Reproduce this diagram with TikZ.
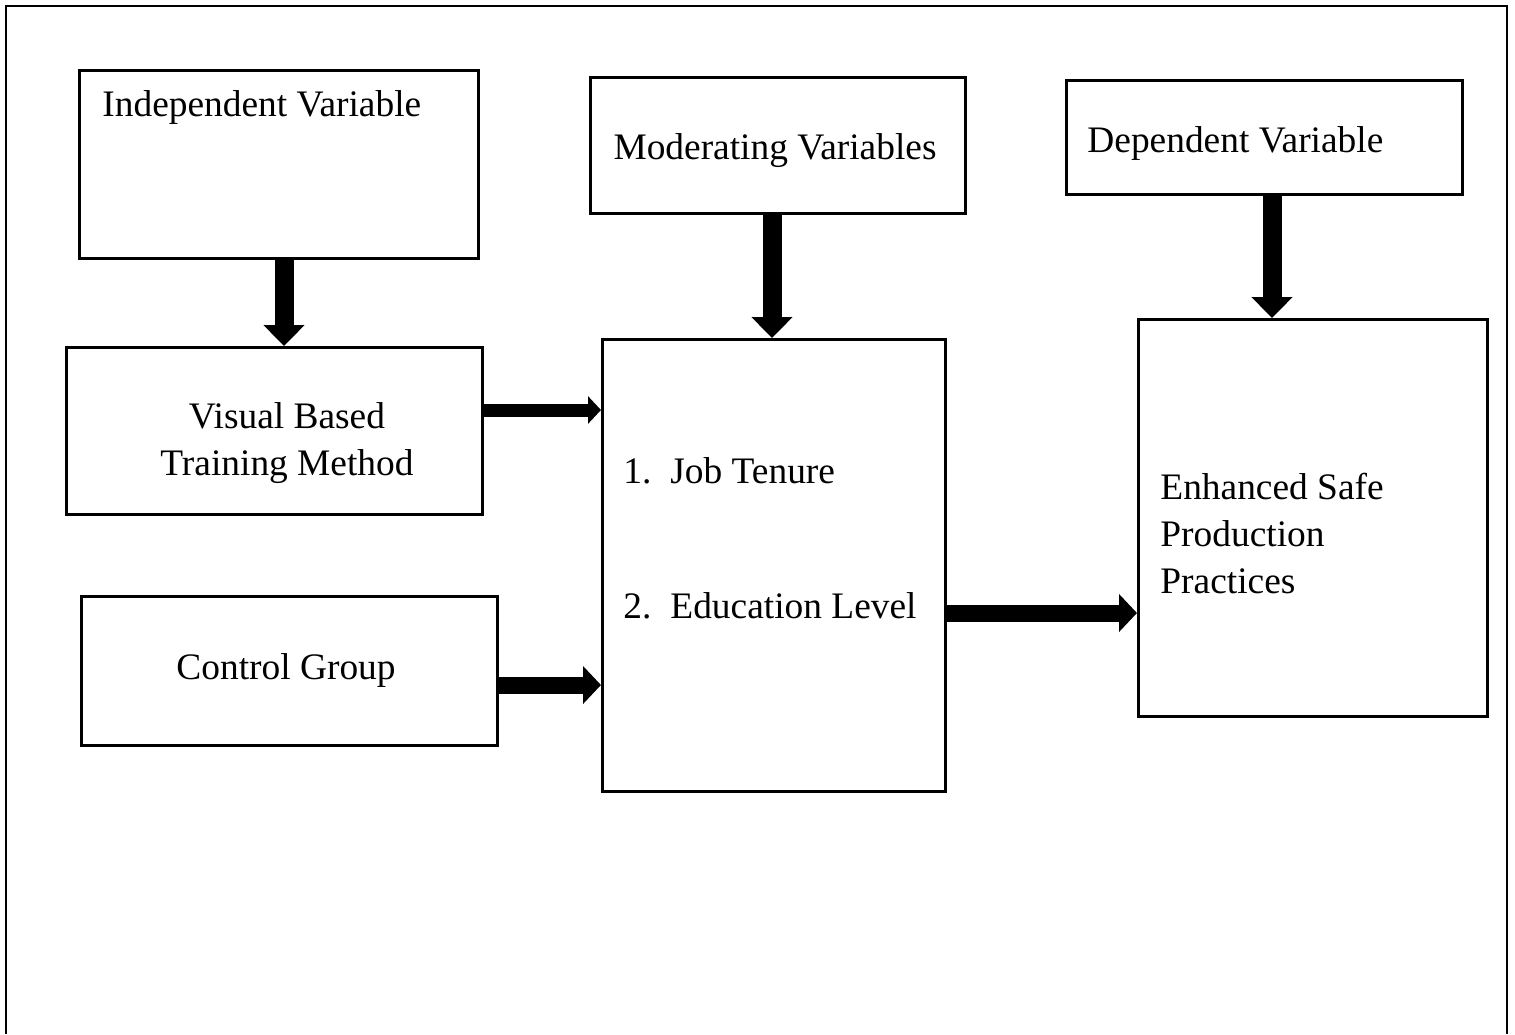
\documentclass[tikz,border=0pt]{standalone}
\usepackage{fontspec}
\setmainfont{Liberation Serif}
\usetikzlibrary{arrows.meta}
\begin{document}
\begin{tikzpicture}[x=0.5pt,y=-0.5pt,
  box/.style={draw, line width=1.5pt, inner sep=0pt, anchor=north west},
  lbl/.style={font=\fontsize{18.7}{23.5}\selectfont, inner sep=0pt},
  bigdown/.style={line width=9.5pt, -{Triangle[width=20pt,length=10.5pt]}},
  thinright/.style={line width=6.5pt, -{Triangle[width=13.5pt,length=6.5pt]}},
  midright/.style={line width=8.5pt, -{Triangle[width=18.5pt,length=9pt]}}]
\useasboundingbox (0,0) rectangle (1515,1034);
\draw[line width=1.2pt] (6,1034) -- (6,6) -- (1507,6) -- (1507,1034);
% boxes
\node[box, minimum width=199.5pt, minimum height=94pt] (indep) at (78,69) {};
\node[box, minimum width=187.5pt, minimum height=68pt] (mod) at (589,76) {};
\node[box, minimum width=198pt, minimum height=57pt] (dep) at (1065,79) {};
\node[box, minimum width=208pt, minimum height=83.5pt] (vis) at (65,346) {};
\node[box, minimum width=208pt, minimum height=74.5pt] (ctrl) at (80,595) {};
\node[box, minimum width=171.5pt, minimum height=226pt] (mid) at (601,338) {};
\node[box, minimum width=174.5pt, minimum height=198.5pt] (enh) at (1137,318) {};
% labels
\node[lbl, anchor=base west] (tIndep) at (102,116) {Independent Variable};
\node[lbl, anchor=base] (tMod) at (775,159) {Moderating Variables};
\node[lbl, anchor=base west] (tDep) at (1087,152) {Dependent Variable};
\node[lbl, anchor=base] (tVis1) at (287,428) {Visual Based};
\node[lbl, anchor=base] (tVis2) at (287,475) {Training Method};
\node[lbl, anchor=base] (tCtrl) at (286,679) {Control Group};
\node[lbl, anchor=base west] (n1) at (623,483) {1.};
\node[lbl, anchor=base west] (tJob) at (670,483) {Job Tenure};
\node[lbl, anchor=base west] (n2) at (623,618) {2.};
\node[lbl, anchor=base west] (tEdu) at (670,618) {Education Level};
\node[lbl, anchor=base west] (tEnh1) at (1160,499) {Enhanced Safe};
\node[lbl, anchor=base west] (tEnh2) at (1160,546) {Production};
\node[lbl, anchor=base west] (tEnh3) at (1160,593) {Practices};
% arrows
\draw[bigdown] (indep.south -| 284,0) -- (vis.north -| 284,0);
\draw[bigdown] (mod.south -| 772,0) -- (mid.north -| 772,0);
\draw[bigdown] (dep.south -| 1272,0) -- (enh.north -| 1272,0);
\draw[thinright] (vis.east |- 0,410) -- (mid.west |- 0,410);
\draw[midright] (ctrl.east |- 0,685) -- (mid.west |- 0,685);
\draw[midright] (mid.east |- 0,613) -- (enh.west |- 0,613);
\end{tikzpicture}
\end{document}
